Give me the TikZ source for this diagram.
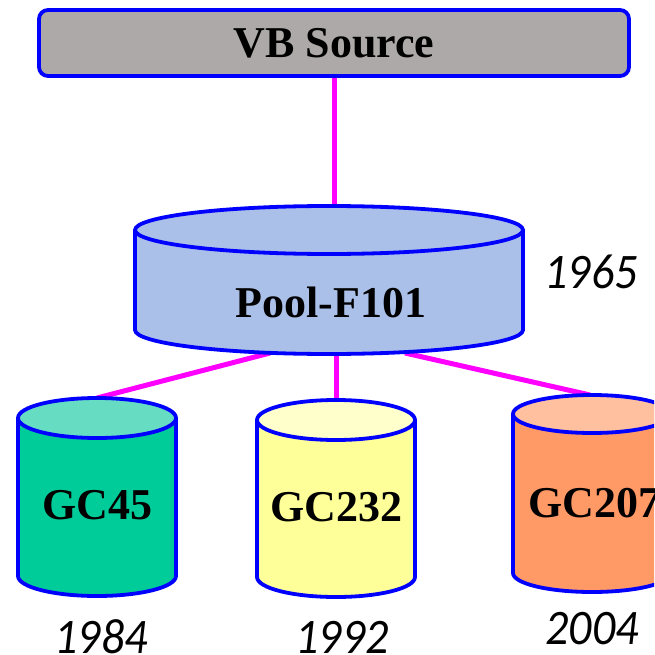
\documentclass[tikz,border=0pt]{standalone}
\usepackage{fontspec}
\setmainfont{Liberation Serif}
\newfontfamily\yearfont{Carlito}
\definecolor{bordblue}{HTML}{0000FF}
\definecolor{linkmag}{HTML}{FF00FF}
\definecolor{vbgray}{HTML}{ADA9A8}
\definecolor{poolblue}{HTML}{ABC0E8}
\definecolor{gcgreen}{HTML}{00CC99}
\definecolor{gcgreentop}{HTML}{66DDC3}
\definecolor{gcyellow}{HTML}{FFFF99}
\definecolor{gcyellowtop}{HTML}{FFFFCC}
\definecolor{gcorange}{HTML}{FF9966}
\definecolor{gcorangetop}{HTML}{FFC09F}
\tikzset{
  link/.style={draw=linkmag, line width=5pt},
  outline/.style={draw=bordblue, line width=3.8pt, line join=round},
  label/.style={font=\fontsize{44}{44}\selectfont\bfseries, text=black, inner sep=0pt},
  year/.style={font=\fontsize{46}{46}\selectfont\yearfont\itshape, text=black, inner sep=0pt},
}
\newcommand\yr[1]{\scalebox{1}[1.08]{#1}}
% #1 cx, #2 rx, #3 top cy, #4 bottom cy, #5 ry, #6 body colour, #7 top colour
\newcommand\drawcylinder[7]{%
  \path[fill=#6] ({#1-#2},#3) -- ({#1-#2},#4)
    arc[start angle=180,end angle=360,x radius=#2pt,y radius=#5pt]
    -- ({#1+#2},#3)
    arc[start angle=0,end angle=180,x radius=#2pt,y radius=#5pt] -- cycle;
  \draw[outline] ({#1-#2},#3) -- ({#1-#2},#4)
    arc[start angle=180,end angle=360,x radius=#2pt,y radius=#5pt]
    -- ({#1+#2},#3);
  \draw[outline, fill=#7] (#1,#3) ellipse[x radius=#2pt, y radius=#5pt];
}
\begin{document}
\begin{tikzpicture}[x=1pt,y=-1pt]
\useasboundingbox (0,0) rectangle (654,655);
\clip (0,0) rectangle (654,655);

% named connection points
\coordinate (pooltop) at (334,206);
\coordinate (poolbl) at (270,353);
\coordinate (poolbm) at (336,353);
\coordinate (poolbr) at (405,353);
\coordinate (gc45top) at (97,398);
\coordinate (gc232top) at (336,401);
\coordinate (gc207top) at (590,395);

% VB Source box
\node (vb) [outline, fill=vbgray, rounded corners=9pt, minimum width=590pt,
  minimum height=66pt, font=\fontsize{44}{44}\selectfont\bfseries, inner sep=0pt]
  at (334,43) {VB Source};

% connectors (behind shapes)
\draw[link] (vb.south) -- (pooltop);
\draw[link] (poolbl) -- (gc45top);
\draw[link] (poolbm) -- (gc232top);
\draw[link] (poolbr) -- (gc207top);

% Pool cylinder
\drawcylinder{329}{194}{230}{330}{24}{poolblue}{poolblue}
\node (pool) [label] at (331,302) {Pool-F101};

% GC cylinders
\drawcylinder{97}{79}{418}{576}{20}{gcgreen}{gcgreentop}
\node (gc45) [label] at (97,505) {GC45};
\drawcylinder{336}{79}{420}{577}{20}{gcyellow}{gcyellowtop}
\node (gc232) [label] at (336,507) {GC232};
\drawcylinder{592}{79}{414}{573}{19}{gcorange}{gcorangetop}
\node (gc207) [label] at (594,503) {GC207};

% years
\node (y1965) [year] at (591,272) {\yr{1965}};
\node (y1984) [year] at (101,637) {\yr{1984}};
\node (y1992) [year] at (342,637) {\yr{1992}};
\node (y2004) [year] at (592,629) {\yr{2004}};
\end{tikzpicture}
\end{document}
